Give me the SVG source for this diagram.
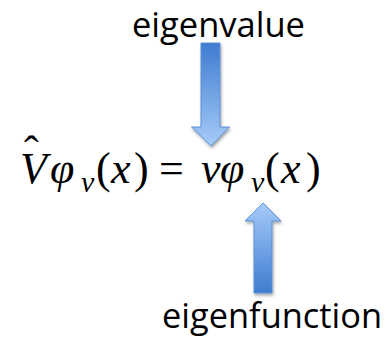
<svg xmlns="http://www.w3.org/2000/svg" width="390" height="340" viewBox="0 0 390 340">
<style>
.lbl{font-family:"Open Sans","Noto Sans","Liberation Sans",sans-serif;font-size:34px;fill:#000}
.m{font-family:"Liberation Serif","DejaVu Serif",serif;font-style:italic;font-size:44px;fill:#000}
.u{font-family:"Liberation Serif","DejaVu Serif",serif;font-size:44px;fill:#000}
.s{font-family:"Liberation Serif","DejaVu Serif",serif;font-style:italic;font-size:30px;fill:#000}
.arr{stroke:#5a8fd6;stroke-width:1;filter:url(#sh)}
</style>
<defs>
<linearGradient id="gd" x1="0" y1="0" x2="0" y2="1">
<stop offset="0" stop-color="#3f7cd0"/>
<stop offset="1" stop-color="#a6cbf8"/>
</linearGradient>
<linearGradient id="gu" x1="0" y1="1" x2="0" y2="0">
<stop offset="0" stop-color="#3f7cd0"/>
<stop offset="1" stop-color="#a6cbf8"/>
</linearGradient>
<filter id="sh" x="-30%" y="-10%" width="160%" height="130%">
<feDropShadow dx="1" dy="2" stdDeviation="1.5" flood-color="#000" flood-opacity="0.35"/>
</filter>
</defs>
<g id="eigenvalue"><text class="lbl" x="132" y="37" textLength="173" lengthAdjust="spacingAndGlyphs">eigenvalue</text></g>
<g id="eigenfunction"><text class="lbl" x="162" y="328" textLength="220" lengthAdjust="spacingAndGlyphs">eigenfunction</text></g>
<g id="equation">
<text class="u" x="24" y="166" font-size="36">ˆ</text>
<text class="m" x="20" y="183">V</text>
<text class="m" x="50" y="183">φ</text>
<text class="s" x="81" y="192">v</text>
<text class="u" x="96" y="183">(</text>
<text class="m" x="111" y="183">x</text>
<text class="u" x="134" y="183">)</text>
<text class="u" x="159" y="183">=</text>
<text class="m" x="201" y="183">v</text>
<text class="m" x="220" y="183">φ</text>
<text class="s" x="251" y="192">v</text>
<text class="u" x="265" y="183">(</text>
<text class="m" x="281" y="183">x</text>
<text class="u" x="306" y="183">)</text>
</g>
<g id="connectors">
<path class="arr" fill="url(#gd)" d="M201,43 H220 V127 H229.5 L211,146 L191.5,127 H201 Z"/>
<path class="arr" fill="url(#gu)" d="M254,293 H272 V221 H281 L263,203 L245,221 H254 Z"/>
</g>
</svg>
